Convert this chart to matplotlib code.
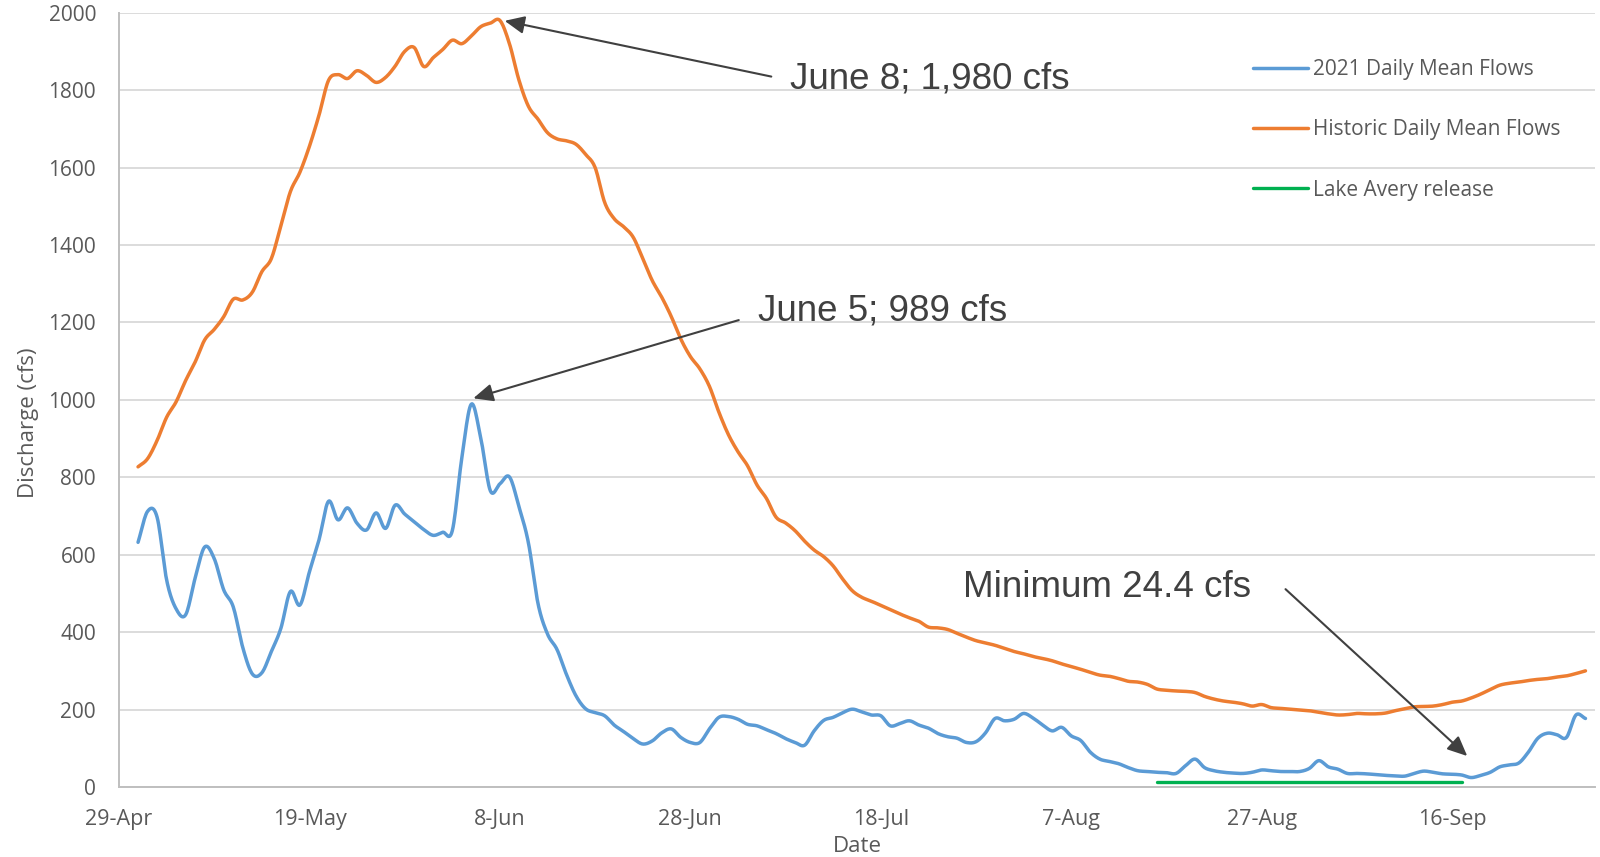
import matplotlib
matplotlib.use("Agg")
import numpy as np
import pandas as pd
import matplotlib.pyplot as plt
import matplotlib.dates as mdates

# ---------------- data ----------------
start_date = "2021-05-01"   # daily values, May 1 .. Sep 30

flow_2021_cfs = [
    632, 712, 697, 535, 460, 445, 540, 620, 590, 509,
    465, 360, 292, 295, 350, 410, 505, 470, 556, 638,
    738, 690, 721, 681, 664, 708, 668, 728, 705, 685,
    665, 650, 658, 662, 850, 989, 900, 765, 783, 801,
    724, 630, 474, 395, 355, 290, 235, 202, 192, 184,
    160, 143, 125, 111, 119, 140, 150, 128, 115, 115,
    150, 180, 182, 175, 162, 158, 148, 138, 125, 115,
    108, 145, 172, 180, 192, 201, 194, 186, 184, 158,
    164, 171, 160, 152, 138, 130, 126, 115, 117, 140,
    177, 171, 175, 190, 178, 160, 145, 154, 132, 120,
    90, 72, 66, 60, 50, 42, 40, 38, 37, 35,
    55, 72, 50, 42, 38, 36, 35, 38, 44, 42,
    40, 40, 40, 48, 68, 52, 46, 35, 35, 34,
    32, 30, 29, 28, 35, 41, 38, 34, 33, 31,
    24.4, 30, 38, 52, 57, 62, 90, 126, 139, 135,
    128, 186, 177,
]

historic_cfs = [
    827, 848, 895, 955, 995, 1050, 1098, 1155, 1182, 1215,
    1260, 1258, 1278, 1331, 1365, 1450, 1538, 1588, 1655, 1735,
    1825, 1840, 1830, 1850, 1838, 1820, 1833, 1862, 1900, 1910,
    1861, 1884, 1905, 1929, 1920, 1940, 1964, 1973, 1980, 1920,
    1826, 1758, 1725, 1690, 1674, 1669, 1660, 1634, 1600, 1510,
    1468, 1447, 1420, 1365, 1308, 1265, 1215, 1157, 1112, 1080,
    1035, 968, 910, 866, 830, 780, 745, 697, 682, 662,
    635, 612, 595, 571, 537, 507, 490, 480, 469, 458,
    447, 437, 428, 413, 411, 407, 397, 387, 378, 372,
    366, 358, 350, 344, 337, 332, 326, 318, 311, 304,
    296, 289, 286, 280, 273, 271, 265, 253, 250, 248,
    247, 244, 234, 227, 222, 219, 215, 209, 213, 205,
    203, 201, 199, 197, 193, 189, 186, 187, 190, 189,
    189, 191, 197, 202, 207, 208, 209, 213, 219, 222,
    230, 240, 252, 263, 268, 271, 275, 278, 280, 284,
    287, 293, 300,
]

lake_avery_dates = ["2021-08-16", "2021-09-17"]
lake_avery_cfs = [12, 12]

series_labels = ["2021 Daily Mean Flows", "Historic Daily Mean Flows", "Lake Avery release"]

tick_dates = ["2021-04-29", "2021-05-19", "2021-06-08", "2021-06-28",
              "2021-07-18", "2021-08-07", "2021-08-27", "2021-09-16"]
tick_labels = ["29-Apr", "19-May", "8-Jun", "28-Jun", "18-Jul", "7-Aug", "27-Aug", "16-Sep"]
x_limits = ["2021-04-29", "2021-10-01"]
y_ticks = [0, 200, 400, 600, 800, 1000, 1200, 1400, 1600, 1800, 2000]

# annotations: (text, text anchor date, text baseline value, arrow tail date/value, arrow tip date/value)
ann_peak_hist = ("June 8; 1,980 cfs", "2021-07-08 12:00", 1805, ("2021-07-06 12:00", 1835), ("2021-06-08 12:00", 1979))
ann_peak_2021 = ("June 5; 989 cfs", "2021-07-05 02:00", 1206, ("2021-07-03 02:00", 1206), ("2021-06-05 05:00", 1004))
ann_minimum = ("Minimum 24.4 cfs", "2021-07-26 14:00", 491, ("2021-08-29 12:00", 511), ("2021-09-17 14:00", 80))

# ---------------- styling ----------------
BLUE = "#5B9BD5"
ORANGE = "#ED7D31"
GREEN = "#00B050"
TXT = "#595959"
ANN = "#404040"
GRID = "#D9D9D9"
AXIS = "#BFBFBF"

plt.rcParams['font.family'] = ['Open Sans', 'DejaVu Sans']


def smooth(xv, yv, n=12):
    """Catmull-Rom smoothing similar to Excel's smoothed line."""
    xv = np.asarray(xv, float)
    yv = np.asarray(yv, float)
    if len(xv) < 3:
        return xv, yv
    xp = np.concatenate([[2 * xv[0] - xv[1]], xv, [2 * xv[-1] - xv[-2]]])
    yp = np.concatenate([[2 * yv[0] - yv[1]], yv, [2 * yv[-1] - yv[-2]]])
    t = np.linspace(0, 1, n, endpoint=False)
    ox, oy = [], []
    for i in range(1, len(xp) - 2):
        for arr, out in ((xp, ox), (yp, oy)):
            p0, p1, p2, p3 = arr[i - 1], arr[i], arr[i + 1], arr[i + 2]
            out.extend(0.5 * (2 * p1 + (-p0 + p2) * t
                              + (2 * p0 - 5 * p1 + 4 * p2 - p3) * t ** 2
                              + (-p0 + 3 * p1 - 3 * p2 + p3) * t ** 3))
    ox.append(xv[-1])
    oy.append(yv[-1])
    return np.array(ox), np.array(oy)


dates = pd.date_range(start_date, periods=len(flow_2021_cfs), freq="D")
xnum = mdates.date2num(dates.to_pydatetime())

fig = plt.figure(figsize=(16, 8.57), dpi=100)
W, H = 1600, 857
L, R, T, B = 119, 1595, 12.7, 787
ax = fig.add_axes([L / W, 1 - B / H, (R - L) / W, (B - T) / H])

ax.set_ylim(0, 2000)
ax.set_xlim(mdates.datestr2num(x_limits[0]), mdates.datestr2num(x_limits[1]))
ax.set_yticks(y_ticks)
ax.set_xticks([mdates.datestr2num(d) for d in tick_dates])
ax.set_xticklabels(tick_labels)
ax.grid(axis="y", color=GRID, lw=1.3)
ax.set_axisbelow(True)
for s in ("top", "right"):
    ax.spines[s].set_visible(False)
for s in ("left", "bottom"):
    ax.spines[s].set_color(AXIS)
    ax.spines[s].set_linewidth(1.4)
ax.tick_params(axis="both", length=0, labelcolor=TXT)
ax.tick_params(axis="y", pad=16.5, labelsize=15)
ax.tick_params(axis="x", pad=16, labelsize=15.5)

sx, sy = smooth(xnum, flow_2021_cfs)
l1, = ax.plot(sx, sy, color=BLUE, lw=2.5, solid_capstyle="round", label=series_labels[0])
sx, sy = smooth(xnum, historic_cfs)
l2, = ax.plot(sx, sy, color=ORANGE, lw=2.5, solid_capstyle="round", label=series_labels[1])
l3, = ax.plot([mdates.datestr2num(d) for d in lake_avery_dates], lake_avery_cfs,
              color=GREEN, lw=2.4, solid_capstyle="round", label=series_labels[2])

ax.set_xlabel("Date", fontsize=16, color=TXT)
ax.xaxis.set_label_coords(0.5, -0.063)
ax.set_ylabel("Discharge (cfs)", fontsize=16, color=TXT)
ax.yaxis.label.set_va("center")
ax.yaxis.set_label_coords(-0.061, 0.471)

for text, tdate, tval, tail, tip in (ann_peak_hist, ann_peak_2021, ann_minimum):
    ax.text(mdates.datestr2num(tdate), tval, text, fontsize=26.5, color=ANN,
            family=["Liberation Sans", "DejaVu Sans"], ha="left", va="baseline")
    ax.annotate("", xy=(mdates.datestr2num(tip[0]), tip[1]),
                xytext=(mdates.datestr2num(tail[0]), tail[1]),
                arrowprops=dict(arrowstyle="-|>,head_length=0.6,head_width=0.27",
                                color=ANN, lw=1.5, shrinkA=0, shrinkB=0,
                                mutation_scale=20))

leg = ax.legend(handles=[l1, l2, l3], loc="upper left",
                bbox_to_anchor=(1253 / W, 1 - 59 / H), bbox_transform=fig.transFigure,
                frameon=False, fontsize=15, handlelength=2.65, handletextpad=0.25,
                labelspacing=1.89, borderpad=0, borderaxespad=0)
for t in leg.get_texts():
    t.set_color(TXT)

fig.savefig("out.png", dpi=100, facecolor="white")
